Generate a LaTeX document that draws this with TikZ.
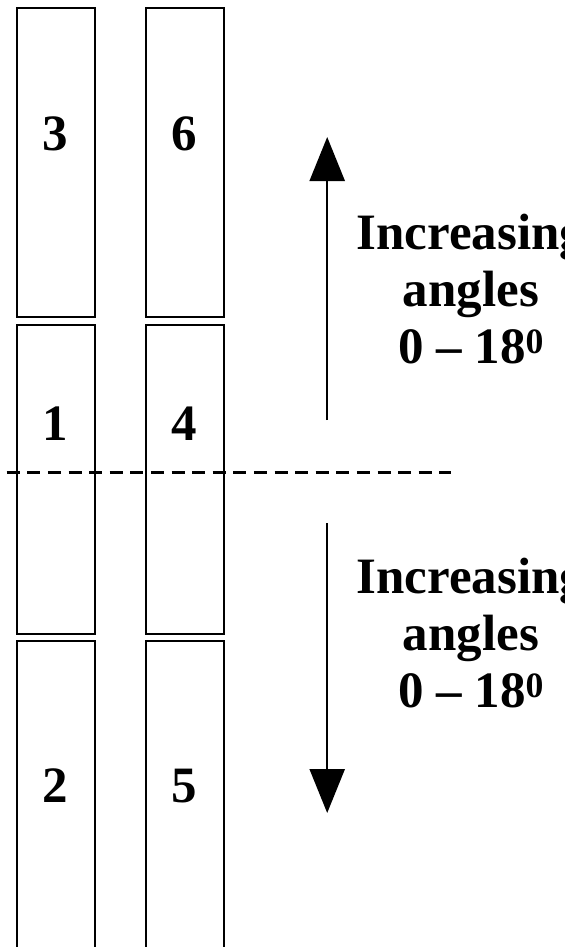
\documentclass[tikz,border=0pt]{standalone}
\usepackage{fontspec}
\setmainfont{Liberation Serif}
\usetikzlibrary{positioning, arrows.meta}

\begin{document}
\begin{tikzpicture}[
    x=1pt, y=-1pt,
    strip/.style={rectangle, draw=black, line width=2pt, minimum width=78pt, minimum height=309pt, inner sep=0pt, anchor=north west},
    num/.style={font=\fontsize{51}{57}\selectfont\bfseries, inner sep=0pt, anchor=base},
    lbl/.style={align=center, font=\fontsize{51}{57}\selectfont\bfseries, inner sep=0pt, anchor=base},
    arr/.style={-{Triangle[width=35pt, length=44pt]}, line width=2.4pt, draw=black},
    zeroline/.style={draw=black, line width=3pt, dash pattern=on 13pt off 7.6pt}
]
    \useasboundingbox (0,0) rectangle (572,947);
    \clip (0,0) rectangle (564,947);

    % strips, left and right column
    \node[strip] (s3) at (16.3,7) {};
    \node[strip] (s1) at (16.3,323.5) {};
    \node[strip] (s2) at (16.3,640) {};
    \node[strip] (s6) at (145.3,7) {};
    \node[strip] (s4) at (145.3,323.5) {};
    \node[strip] (s5) at (145.3,640) {};

    \node[num] (n3) at (55.3,150) {3};
    \node[num] (n6) at (184.3,150) {6};
    \node[num] (n1) at (55.3,440) {1};
    \node[num] (n4) at (184.3,440) {4};
    \node[num] (n2) at (55.3,802) {2};
    \node[num] (n5) at (184.3,802) {5};

    % zero line
    \coordinate (z0) at (6.7,472.5);
    \coordinate (z1) at (450.7,472.5);
    \draw[zeroline] (z0) -- (z1);

    % arrows
    \coordinate (ub) at (327.2,420);
    \coordinate (ut) at (327.2,137);
    \coordinate (dt) at (327.2,523);
    \coordinate (db) at (327.2,813);
    \draw[arr] (ub) -- (ut);
    \draw[arr] (dt) -- (db);

    % labels (base is the last line)
    \node[lbl] (uplbl) at (471,363) {Increasing\\angles\\0 -- 18\textsuperscript{0}};
    \node[lbl] (dnlbl) at (471,707) {Increasing\\angles\\0 -- 18\textsuperscript{0}};
\end{tikzpicture}
\end{document}
